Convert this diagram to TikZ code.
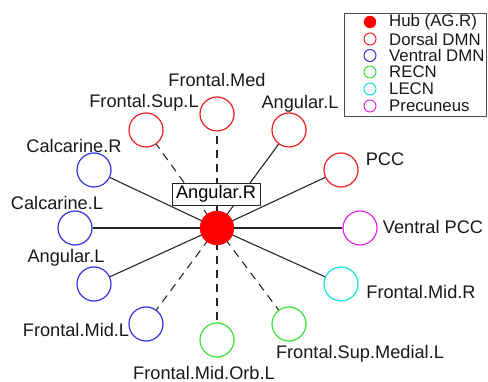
\documentclass[tikz,border=0pt]{standalone}
\usepackage{fontspec}
\setmainfont{Liberation Sans}
\definecolor{cred}{RGB}{240,30,30}
\definecolor{cblue}{RGB}{50,50,225}
\definecolor{cgreen}{RGB}{50,225,50}
\definecolor{ccyan}{RGB}{20,225,225}
\definecolor{cmag}{RGB}{225,40,225}
\tikzset{
  roi/.style={circle, draw=#1, line width=1.2pt, minimum size=34pt, inner sep=0pt},
  lbl/.style={font=\fontsize{18.2}{21}\selectfont, inner sep=0pt, text=black!90},
  conn/.style={line width=1.1pt, draw=black!85},
  dconn/.style={conn, dash pattern=on 8pt off 6pt},
  legmark/.style={circle, draw=#1, line width=1pt, minimum size=12pt, inner sep=0pt},
  legtxt/.style={font=\fontsize{16.8}{19}\selectfont, inner sep=0pt, anchor=west, text=black!90},
}
\begin{document}
\begin{tikzpicture}[x=1pt,y=-1pt]
\useasboundingbox (0,0) rectangle (488,382);
% ROIs
\node[roi=cred] (fmed) at (217,114) {};
\node[roi=cred] (fsupl) at (146,130) {};
\node[roi=cred] (angLt) at (289,130) {};
\node[roi=cblue] (calR) at (94,170) {};
\node[roi=cred] (pcc) at (341,170) {};
\node[roi=cblue] (calL) at (75,228) {};
\node[roi=cmag] (vpcc) at (360,228) {};
\node[roi=cblue] (angLb) at (94,284) {};
\node[roi=ccyan] (fmidR) at (341,284) {};
\node[roi=cblue] (fmidL) at (146,324) {};
\node[roi=cgreen] (fsml) at (289,324) {};
\node[roi=cgreen] (fmol) at (217,340) {};
\coordinate (hubc) at (217,228);
% connectors
\draw[dconn] (hubc) -- (fmed);
\draw[dconn] (hubc) -- (fsupl);
\draw[conn] (hubc) -- (angLt);
\draw[conn] (hubc) -- (calR);
\draw[conn] (hubc) -- (pcc);
\draw[conn] (hubc) -- (calL);
\draw[conn] (hubc) -- (vpcc);
\draw[conn] (hubc) -- (angLb);
\draw[conn] (hubc) -- (fmidR);
\draw[dconn] (hubc) -- (fmidL);
\draw[dconn] (hubc) -- (fsml);
\draw[dconn] (hubc) -- (fmol);
% hub
\node[circle, fill=red, draw=red, minimum size=34pt, inner sep=0pt] (hub) at (hubc) {};
\node[draw=black!85, fill=white, line width=0.9pt, font=\fontsize{18.2}{21}\selectfont, inner xsep=3pt, inner ysep=2pt, minimum width=88pt, minimum height=22pt] (angR) at (216,194) {Angular.R};
% labels
\node[lbl] (l1) at (217,80) {Frontal.Med};
\node[lbl] (l2) at (144,103) {Frontal.Sup.L};
\node[lbl] (l3) at (300,104) {Angular.L};
\node[lbl] (l4) at (74,146) {Calcarine.R};
\node[lbl] (l5) at (385,159) {PCC};
\node[lbl] (l6) at (57,203) {Calcarine.L};
\node[lbl] (l7) at (433,227) {Ventral PCC};
\node[lbl] (l8) at (66,258) {Angular.L};
\node[lbl] (l9) at (421,292) {Frontal.Mid.R};
\node[lbl] (l10) at (76,330) {Frontal.Mid.L};
\node[lbl] (l11) at (360,354) {Frontal.Sup.Medial.L};
\node[lbl] (l12) at (204,373) {Frontal.Mid.Orb.L};
% legend
\node[draw=black!70, line width=0.9pt, minimum width=142pt, minimum height=103pt, inner sep=0pt] (legend) at (415,64.5) {};
\node[circle, fill=red, draw=red, minimum size=12pt, inner sep=0pt] (m1) at (370,22) {};
\node[legmark=cred] (m2) at (370,39) {};
\node[legmark=cblue] (m3) at (370,55.5) {};
\node[legmark=cgreen] (m4) at (370,72) {};
\node[legmark=ccyan] (m5) at (370,89) {};
\node[legmark=cmag] (m6) at (370,106) {};
\node[legtxt] (t1) at (389,22) {Hub (AG.R)};
\node[legtxt] (t2) at (389,39) {Dorsal DMN};
\node[legtxt] (t3) at (389,55.5) {Ventral DMN};
\node[legtxt] (t4) at (389,72) {RECN};
\node[legtxt] (t5) at (389,89) {LECN};
\node[legtxt] (t6) at (389,106) {Precuneus};
\end{tikzpicture}
\end{document}
